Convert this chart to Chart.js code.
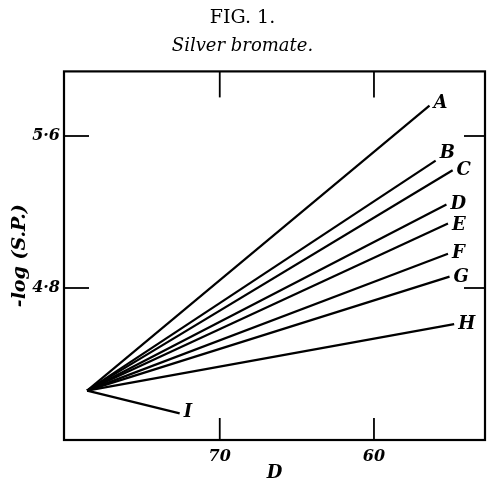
<!DOCTYPE html>
<html>
<head>
<meta charset="utf-8">
<script src="https://cdn.jsdelivr.net/npm/chart.js@4/dist/chart.umd.min.js"></script>
<style>
  html, body { margin: 0; padding: 0; background: #fff; }
  #wrap { width: 487px; height: 480px; }
</style>
</head>
<body>
<div id="wrap"><canvas id="chart"></canvas></div>
<script>
// Silver bromate: -log(S.P.) against D, all lines from a common point
const seriesNames = ['A', 'B', 'C', 'D', 'E', 'F', 'G', 'H', 'I'];
const originD = 78.6;
const originLogSP = 4.26;
const endD = [56.4, 56.0, 54.9, 55.3, 55.2, 55.2, 55.1, 54.8, 72.6];
const endLogSP = [5.76, 5.47, 5.42, 5.24, 5.14, 4.98, 4.86, 4.61, 4.14];
const xTicks = [70, 60];
const yTicks = [4.8, 5.6];

const serif = '"DejaVu Serif", "Liberation Serif", serif';
const labelShift = [-2, -7, 0, 0, 2, 0, 1, 0, -1];

const datasets = seriesNames.map((name, i) => ({
    label: name,
    data: [
        { x: originD, y: originLogSP },
        { x: endD[i], y: endLogSP[i] }
    ],
    showLine: true,
    borderColor: '#000',
    borderWidth: 2.2,
    pointRadius: 0,
    fill: false
}));

// frame, inward tick marks and line letters
const frameTicks = {
    id: 'frameTicks',
    afterDatasetsDraw(chart) {
        const { ctx, chartArea: a, scales: { x, y } } = chart;
        ctx.save();
        ctx.strokeStyle = '#000';
        ctx.lineWidth = 2.2;
        ctx.strokeRect(a.left, a.top, a.width, a.height);

        const seg = (x1, y1, x2, y2) => {
            ctx.beginPath();
            ctx.moveTo(x1, y1);
            ctx.lineTo(x2, y2);
            ctx.stroke();
        };
        ctx.lineWidth = 1.8;
        xTicks.forEach(v => {
            const px = x.getPixelForValue(v);
            seg(px, a.top, px, a.top + 26);
            seg(px, a.bottom, px, a.bottom - 22);
        });
        yTicks.forEach(v => {
            const py = y.getPixelForValue(v);
            seg(a.left, py, a.left + 25, py);
            seg(a.right, py, a.right - 21, py);
        });

        ctx.fillStyle = '#000';
        ctx.font = 'italic bold 18px ' + serif;
        ctx.textAlign = 'left';
        ctx.textBaseline = 'middle';
        chart.data.datasets.forEach((ds, i) => {
            const meta = chart.getDatasetMeta(i);
            const pt = meta.data[meta.data.length - 1];
            ctx.fillText(ds.label, pt.x + 4, pt.y + labelShift[i]);
        });
        ctx.restore();
    }
};

new Chart(document.getElementById('chart'), {
    type: 'scatter',
    data: { datasets },
    plugins: [frameTicks],
    options: {
        responsive: true,
        maintainAspectRatio: false,
        animation: false,
        layout: { padding: { left: 0, right: 2, top: 0, bottom: 0 } },
        plugins: {
            legend: { display: false },
            tooltip: { enabled: false },
            title: {
                display: true,
                text: 'FIG. 1.',
                color: '#000',
                font: { family: serif, size: 19, weight: 'normal' },
                padding: { top: 7, bottom: 4 }
            },
            subtitle: {
                display: true,
                text: 'Silver bromate.',
                color: '#000',
                font: { family: serif, size: 18, style: 'italic', weight: 'normal' },
                padding: { top: 2, bottom: 14 }
            }
        },
        scales: {
            x: {
                type: 'linear',
                reverse: true,
                min: 52.8,
                max: 80.1,
                afterBuildTicks: axis => { axis.ticks = xTicks.map(v => ({ value: v })); },
                afterFit: axis => { axis.height = 40; },
                grid: { display: false, drawTicks: false },
                border: { display: false },
                ticks: {
                    color: '#000',
                    padding: 7,
                    font: { family: serif, size: 16, style: 'italic', weight: 'bold' }
                },
                title: {
                    display: true,
                    text: 'D',
                    color: '#000',
                    padding: { top: 0, bottom: -4 },
                    font: { family: serif, size: 18, style: 'italic', weight: 'bold' }
                }
            },
            y: {
                type: 'linear',
                min: 4.0,
                max: 5.94,
                afterBuildTicks: axis => { axis.ticks = yTicks.map(v => ({ value: v })); },
                afterFit: axis => { axis.width = 64; },
                grid: { display: false, drawTicks: false },
                border: { display: false },
                ticks: {
                    color: '#000',
                    padding: 4,
                    callback: v => v.toFixed(1).replace('.', '·'),
                    font: { family: serif, size: 16, style: 'italic', weight: 'bold' }
                },
                title: {
                    display: true,
                    text: '-log (S.P.)',
                    color: '#000',
                    padding: { top: 9, bottom: 0 },
                    font: { family: serif, size: 19, style: 'italic', weight: 'bold' }
                }
            }
        }
    }
});
</script>
</body>
</html>
